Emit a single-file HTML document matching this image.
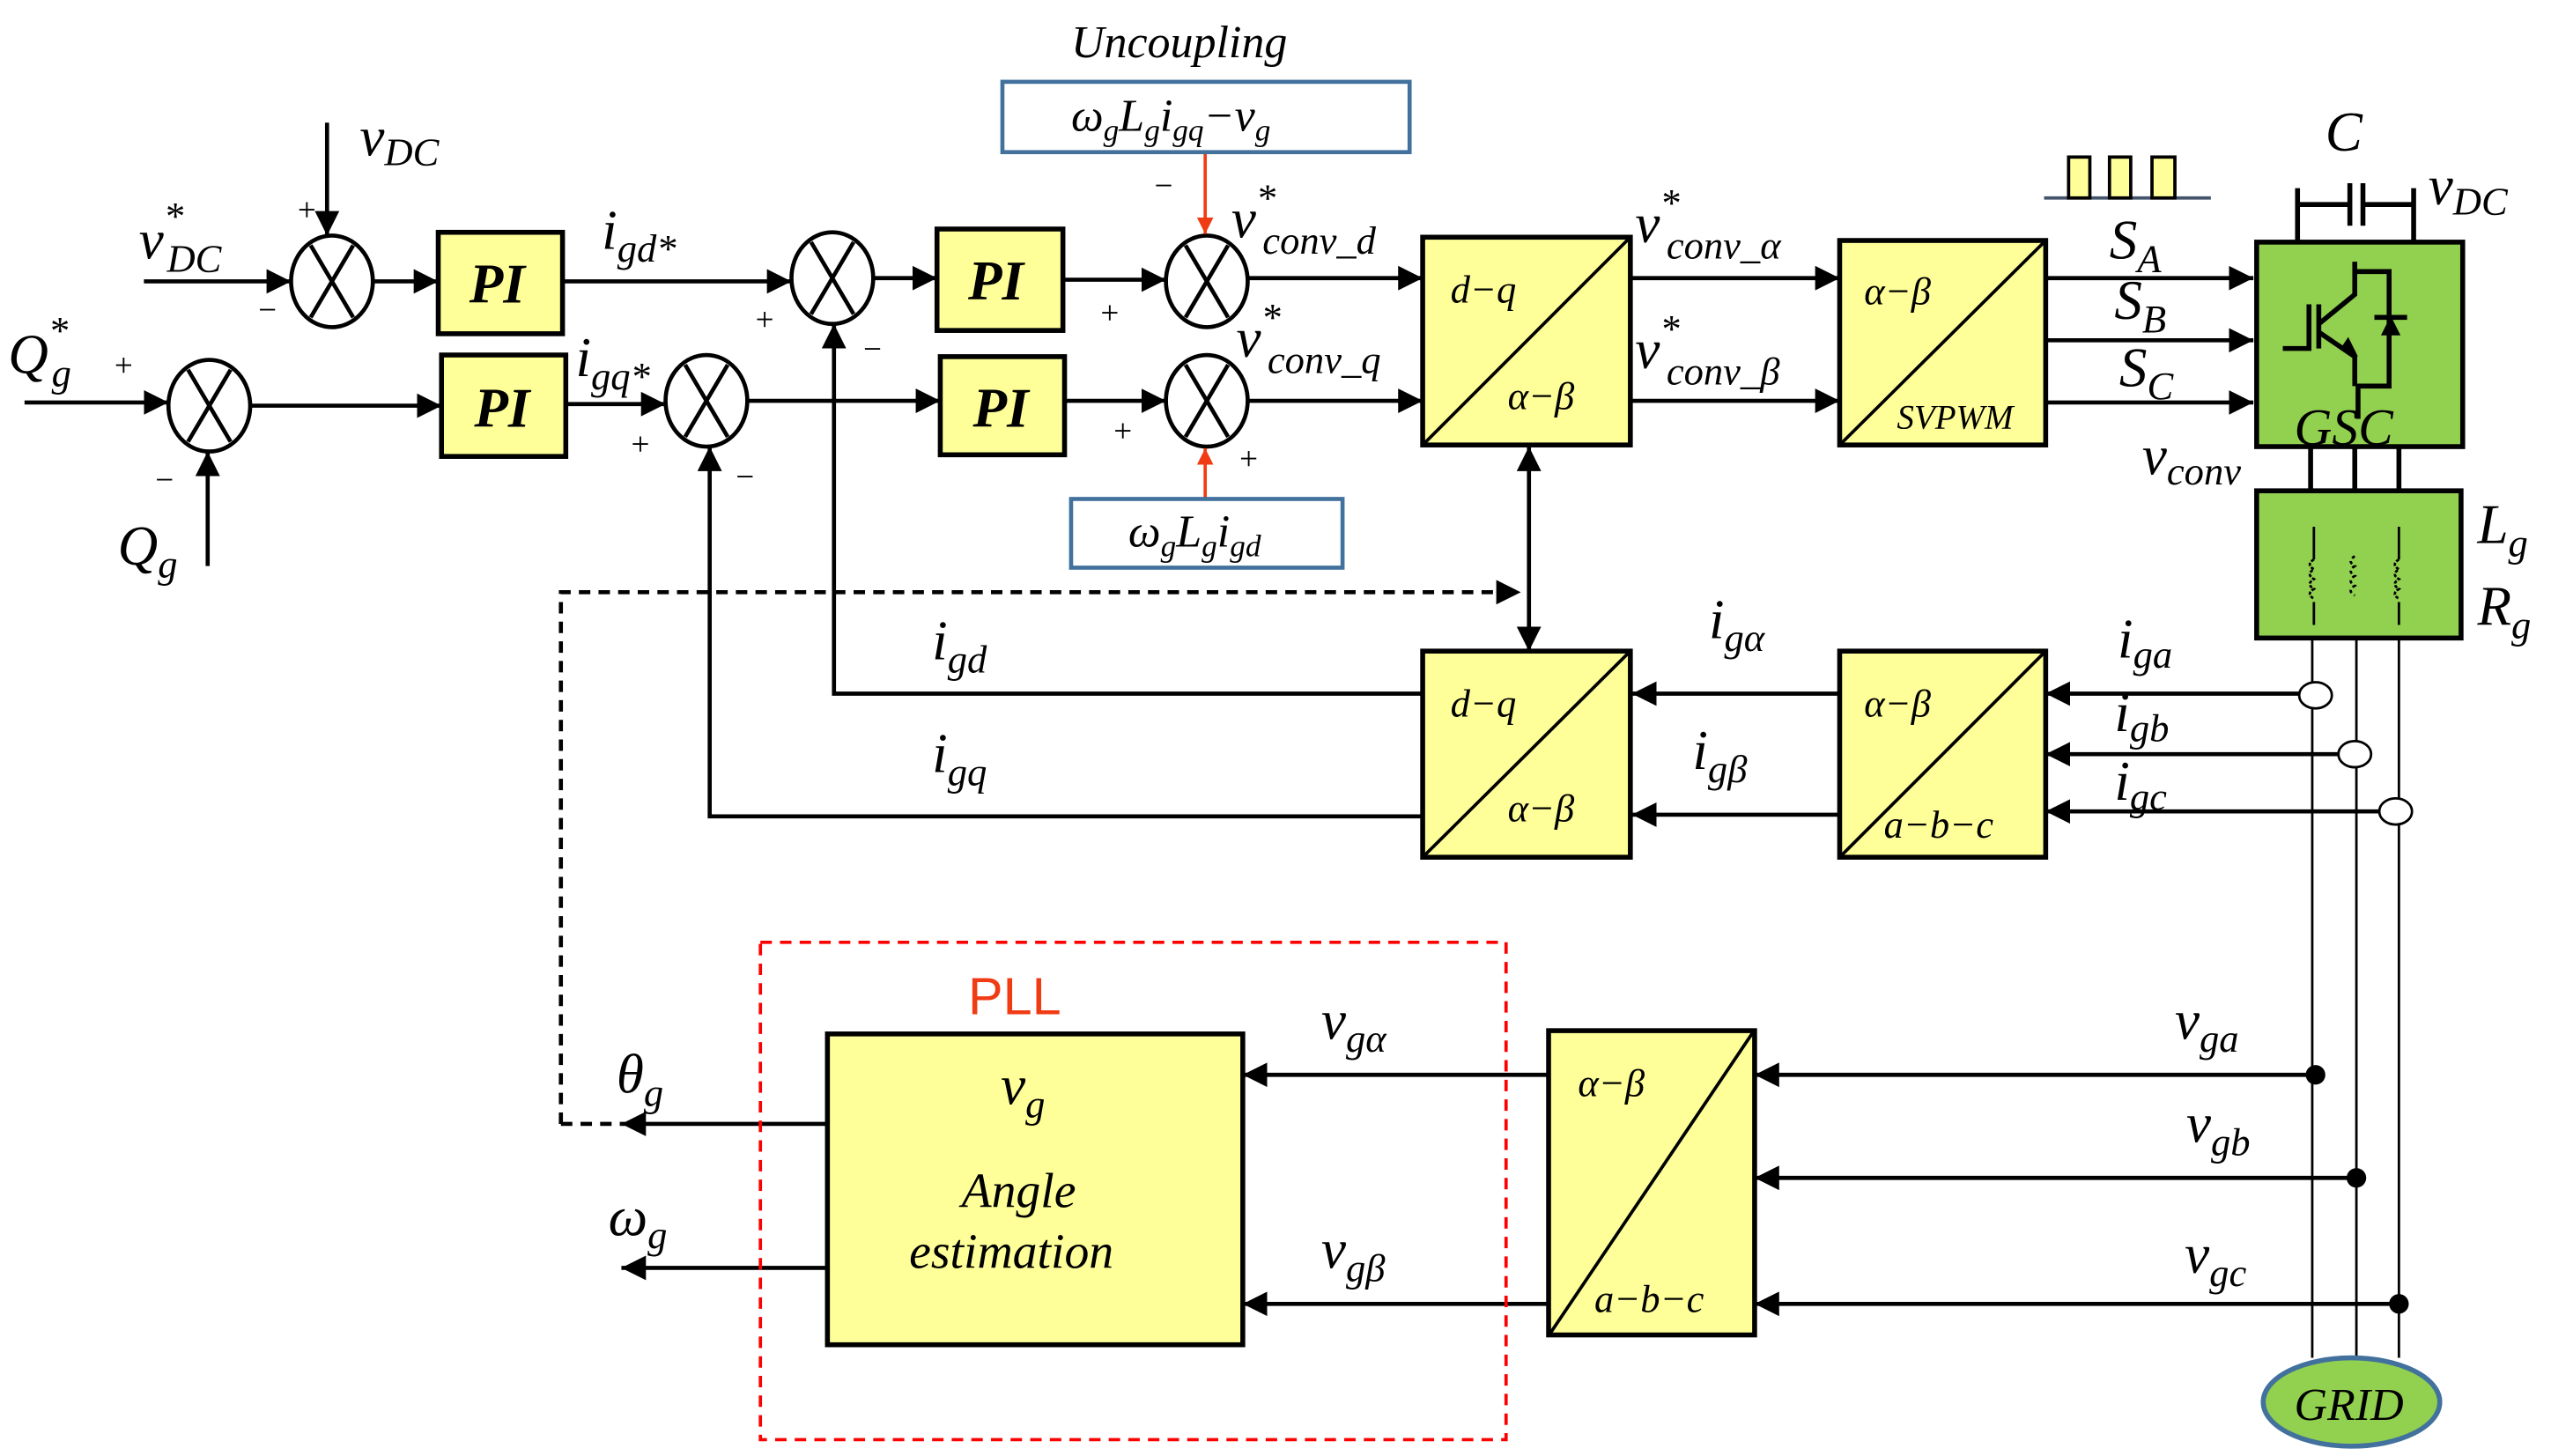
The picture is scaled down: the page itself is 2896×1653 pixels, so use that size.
<!DOCTYPE html>
<html><head><meta charset="utf-8"><style>
html,body{margin:0;padding:0;background:#fff;}
svg{display:block;}
text{font-family:"Liberation Serif",serif;font-style:italic;fill:#000;}
.m{font-size:34px;}
.s{font-size:24px;}
.pm{font-size:20px;font-style:normal;}
</style></head><body>
<svg width="2896" height="1653" viewBox="0 0 1560 890" preserveAspectRatio="none" xmlns="http://www.w3.org/2000/svg">
<defs>
<marker id="a" viewBox="0 0 10 10" refX="10" refY="5" markerWidth="6" markerHeight="6" orient="auto-start-reverse"><path d="M0,0L10,5L0,10z" fill="#000"/></marker>
<marker id="r" viewBox="0 0 10 10" refX="10" refY="5" markerWidth="5" markerHeight="5" orient="auto"><path d="M0,0L10,5L0,10z" fill="#f03c14"/></marker>
</defs>
<g stroke="#000" stroke-width="2.5" fill="none">
<!-- summers -->
<g>
<ellipse cx="203" cy="172" rx="25" ry="28"/><path d="M190,150L216,194M216,150L190,194"/>
<ellipse cx="128" cy="248" rx="25" ry="28"/><path d="M115,226L141,270M141,226L115,270"/>
<ellipse cx="509" cy="170" rx="25" ry="28"/><path d="M496,148L522,192M522,148L496,192"/>
<ellipse cx="432" cy="245" rx="25" ry="28"/><path d="M419,223L445,267M445,223L419,267"/>
<ellipse cx="738" cy="172" rx="25" ry="28"/><path d="M725,150L751,194M751,150L725,194"/>
<ellipse cx="738" cy="245" rx="25" ry="28"/><path d="M725,223L751,267M751,223L725,267"/>
</g>
<!-- arrows -->
<path d="M200,75V144" marker-end="url(#a)"/>
<path d="M88,172H178" marker-end="url(#a)"/>
<path d="M228,172H268" marker-end="url(#a)"/>
<path d="M344,172H484" marker-end="url(#a)"/>
<path d="M15,246H103" marker-end="url(#a)"/>
<path d="M127,346V276" marker-end="url(#a)"/>
<path d="M153,248H270" marker-end="url(#a)"/>
<path d="M346,247H407" marker-end="url(#a)"/>
<path d="M534,170H573" marker-end="url(#a)"/>
<path d="M457,245H575" marker-end="url(#a)"/>
<path d="M650,171H713" marker-end="url(#a)"/>
<path d="M651,245H713" marker-end="url(#a)"/>
<path d="M763,170H870" marker-end="url(#a)"/>
<path d="M763,245H870" marker-end="url(#a)"/>
<path d="M997,170H1125" marker-end="url(#a)"/>
<path d="M997,245H1125" marker-end="url(#a)"/>
<path d="M1251,170H1378" marker-end="url(#a)"/>
<path d="M1251,208H1378" marker-end="url(#a)"/>
<path d="M1251,246H1378" marker-end="url(#a)"/>
<path d="M935,273V398" marker-start="url(#a)" marker-end="url(#a)"/>
<path d="M1406,424H1251" marker-end="url(#a)"/>
<path d="M1430,461H1251" marker-end="url(#a)"/>
<path d="M1455,496H1251" marker-end="url(#a)"/>
<path d="M1125,424H998" marker-end="url(#a)"/>
<path d="M1125,498H998" marker-end="url(#a)"/>
<path d="M870,424H510V198" marker-end="url(#a)"/>
<path d="M870,499H434V273" marker-end="url(#a)"/>
<path d="M1416,657H1073" marker-end="url(#a)"/>
<path d="M1441,720H1073" marker-end="url(#a)"/>
<path d="M1467,797H1073" marker-end="url(#a)"/>
<path d="M947,657H760" marker-end="url(#a)"/>
<path d="M947,797H760" marker-end="url(#a)"/>
<path d="M505,687H380" marker-end="url(#a)"/>
<path d="M505,775H380" marker-end="url(#a)"/>
<path d="M343,687V362H930" stroke-dasharray="7,5" marker-end="url(#a)"/>
<path d="M343,687H380" stroke-dasharray="7,5"/>
</g>
<!-- red uncoupling arrows -->
<g stroke="#f03c14" stroke-width="2" fill="none">
<path d="M737,93V143" marker-end="url(#r)"/>
<path d="M737,305V274" marker-end="url(#r)"/>
</g>
<!-- PI boxes -->
<g fill="#ffff99" stroke="#000" stroke-width="3">
<rect x="268" y="142" width="76" height="62"/>
<rect x="270" y="217" width="76" height="62"/>
<rect x="573" y="140" width="77" height="62"/>
<rect x="575" y="218" width="76" height="60"/>
<rect x="870" y="145" width="127" height="127"/>
<rect x="1125" y="147" width="126" height="125"/>
<rect x="870" y="398" width="127" height="126"/>
<rect x="1125" y="398" width="126" height="126"/>
<rect x="947" y="630" width="126" height="186"/>
<rect x="506" y="632" width="254" height="190"/>
</g>
<g stroke="#000" stroke-width="2" fill="none">
<path d="M870,272L997,145M1125,272L1251,147M870,524L997,398M1125,524L1251,398M948,815L1072,631"/>
</g>
<g font-size="34" font-weight="bold">
<text x="287" y="185" class="m">PI</text>
<text x="290" y="261" class="m">PI</text>
<text x="592" y="183" class="m">PI</text>
<text x="595" y="261" class="m">PI</text>
</g>
<g font-size="24">
<text x="887" y="185">d−q</text><text x="922" y="250">α−β</text>
<text x="1140" y="186">α−β</text><text x="1160" y="262" font-size="21">SVPWM</text>
<text x="887" y="438">d−q</text><text x="922" y="502">α−β</text>
<text x="1140" y="438">α−β</text><text x="1152" y="512">a−b−c</text>
<text x="965" y="670">α−β</text><text x="975" y="802">a−b−c</text>
</g>
<!-- blue boxes -->
<rect x="613" y="50" width="249" height="43" fill="#fff" stroke="#41719c" stroke-width="2.5"/>
<rect x="655" y="305" width="166" height="42" fill="#fff" stroke="#41719c" stroke-width="2.5"/>
<text x="655" y="80" font-size="28">ω<tspan font-size="19" dy="6">g</tspan><tspan dy="-6">L</tspan><tspan font-size="19" dy="6">g</tspan><tspan dy="-6">i</tspan><tspan font-size="19" dy="6">gq</tspan><tspan dy="-6">−v</tspan><tspan font-size="19" dy="6">g</tspan></text>
<text x="690" y="334" font-size="28">ω<tspan font-size="19" dy="6">g</tspan><tspan dy="-6">L</tspan><tspan font-size="19" dy="6">g</tspan><tspan dy="-6">i</tspan><tspan font-size="19" dy="6">gd</tspan></text>
<text x="655" y="35" font-size="28">Uncoupling</text>
<!-- pulses -->
<path d="M1250,121H1352" stroke="#44546a" stroke-width="2"/>
<g fill="#ffff99" stroke="#000" stroke-width="2">
<rect x="1265" y="96" width="13" height="25"/><rect x="1290" y="96" width="13" height="25"/><rect x="1316" y="96" width="14" height="25"/>
</g>
<!-- GSC -->
<rect x="1380" y="148" width="126" height="125" fill="#92d050" stroke="#000" stroke-width="3"/>
<g stroke="#000" stroke-width="3" fill="none">
<path d="M1405,148V115M1476,148V115M1405,125H1437M1445,125H1476M1437,112V138M1445,112V138"/>
<path d="M1413,272V300M1440,272V300M1467,272V300"/>
<path d="M1396,213H1412V186M1418,186V213M1418,198L1440,180V160M1440,180V166H1461V236H1442V256M1418,203L1440,218V236"/>
<path d="M1452,194H1472"/>
</g>
<path d="M1456,205L1468,205L1462,193z" fill="#000"/>
<path d="M1432,212L1442,218L1436,206z" fill="#000"/>
<rect x="1380" y="300" width="125" height="90" fill="#92d050" stroke="#000" stroke-width="3"/>
<g stroke="#000" stroke-width="1.5" fill="none">
<path d="M1415,322V342M1415,368V382M1467,322V342M1467,368V382"/>
<path d="M1415,342q-5,3 0,6q-5,3 0,6q-5,3 0,6q-5,3 0,6" stroke-dasharray="2,1"/>
<path d="M1440,340q-5,3 0,6q-5,3 0,6q-5,3 0,6q-5,3 0,6" stroke-dasharray="2,2"/>
<path d="M1467,342q-5,3 0,6q-5,3 0,6q-5,3 0,6q-5,3 0,6" stroke-dasharray="2,1"/>
</g>
<g stroke="#000" stroke-width="1.5" fill="none">
<path d="M1414,390V830M1441,390V830M1467,390V830"/>
</g>
<g stroke="#000" stroke-width="1.5" fill="#fff">
<ellipse cx="1416" cy="425" rx="10" ry="8"/><ellipse cx="1440" cy="461" rx="10" ry="8"/><ellipse cx="1465" cy="496" rx="10" ry="8"/>
</g>
<g fill="#000"><circle cx="1416" cy="657" r="6"/><circle cx="1441" cy="720" r="6"/><circle cx="1467" cy="797" r="6"/></g>
<ellipse cx="1438" cy="857" rx="54" ry="27" fill="#92d050" stroke="#41719c" stroke-width="3"/>
<text x="1403" y="868" font-size="28">GRID</text>
<!-- PLL -->
<rect x="465" y="576" width="456" height="304" fill="none" stroke="#f00" stroke-width="2" stroke-dasharray="7,5"/>
<text x="592" y="620" font-family="Liberation Sans,sans-serif" font-style="normal" font-size="32" fill="#f03c14" style="font-style:normal;fill:#f03c14;font-family:'Liberation Sans',sans-serif">PLL</text>
<text x="612" y="675" class="m">v<tspan class="s" dy="8">g</tspan></text>
<text x="588" y="738" font-size="30">Angle</text>
<text x="556" y="775" font-size="30">estimation</text>
<!-- labels -->
<g>
<text x="220" y="95" class="m">v<tspan class="s" dy="6">DC</tspan></text>
<text x="85" y="158" class="m">v<tspan class="s" dy="-18">*</tspan><tspan class="s" dx="-10" dy="26">DC</tspan></text>
<text x="5" y="228" class="m">Q<tspan class="s" dy="-18">*</tspan><tspan class="s" dx="-10" dy="26">g</tspan></text>
<text x="72" y="345" class="m">Q<tspan class="s" dy="8">g</tspan></text>
<text x="368" y="152" class="m">i<tspan class="s" dy="8">gd*</tspan></text>
<text x="352" y="230" class="m">i<tspan class="s" dy="8">gq*</tspan></text>
<text x="753" y="145" class="m">v<tspan class="s" dy="-16">*</tspan><tspan class="s" dx="-8" dy="26">conv_d</tspan></text>
<text x="756" y="218" class="m">v<tspan class="s" dy="-16">*</tspan><tspan class="s" dx="-8" dy="26">conv_q</tspan></text>
<text x="1000" y="148" class="m">v<tspan class="s" dy="-16">*</tspan><tspan class="s" dx="-8" dy="26">conv_α</tspan></text>
<text x="1000" y="225" class="m">v<tspan class="s" dy="-16">*</tspan><tspan class="s" dx="-8" dy="26">conv_β</tspan></text>
<text x="1290" y="158" class="m">S<tspan class="s" dy="8">A</tspan></text>
<text x="1293" y="195" class="m">S<tspan class="s" dy="8">B</tspan></text>
<text x="1296" y="236" class="m">S<tspan class="s" dy="8">C</tspan></text>
<text x="1422" y="92" class="m">C</text>
<text x="1485" y="125" class="m">v<tspan class="s" dy="6">DC</tspan></text>
<text x="1403" y="272" font-size="32">GSC</text>
<text x="1310" y="290" class="m">v<tspan class="s" dy="6">conv</tspan></text>
<text x="1515" y="332" class="m">L<tspan class="s" dy="8">g</tspan></text>
<text x="1515" y="382" class="m">R<tspan class="s" dy="8">g</tspan></text>
<text x="1295" y="402" class="m">i<tspan class="s" dy="6">ga</tspan></text>
<text x="1293" y="447" class="m">i<tspan class="s" dy="6">gb</tspan></text>
<text x="1293" y="489" class="m">i<tspan class="s" dy="6">gc</tspan></text>
<text x="1045" y="390" class="m">i<tspan class="s" dy="8">gα</tspan></text>
<text x="1035" y="470" class="m">i<tspan class="s" dy="8">gβ</tspan></text>
<text x="570" y="403" class="m">i<tspan class="s" dy="8">gd</tspan></text>
<text x="570" y="472" class="m">i<tspan class="s" dy="8">gq</tspan></text>
<text x="808" y="635" class="m">v<tspan class="s" dy="8">gα</tspan></text>
<text x="808" y="775" class="m">v<tspan class="s" dy="8">gβ</tspan></text>
<text x="1330" y="635" class="m">v<tspan class="s" dy="8">ga</tspan></text>
<text x="1337" y="698" class="m">v<tspan class="s" dy="8">gb</tspan></text>
<text x="1336" y="778" class="m">v<tspan class="s" dy="8">gc</tspan></text>
<text x="377" y="668" class="m">θ<tspan class="s" dy="8">g</tspan></text>
<text x="372" y="755" class="m">ω<tspan class="s" dy="8">g</tspan></text>
</g>
<g class="pm" font-size="20">
<text x="182" y="135" class="pm">+</text><text x="158" y="196" class="pm">−</text>
<text x="70" y="230" class="pm">+</text><text x="95" y="300" class="pm">−</text>
<text x="462" y="202" class="pm">+</text><text x="528" y="220" class="pm">−</text>
<text x="386" y="278" class="pm">+</text><text x="450" y="298" class="pm">−</text>
<text x="673" y="198" class="pm">+</text><text x="706" y="120" class="pm">−</text>
<text x="681" y="270" class="pm">+</text><text x="758" y="287" class="pm">+</text>
</g>
</svg>
</body></html>
